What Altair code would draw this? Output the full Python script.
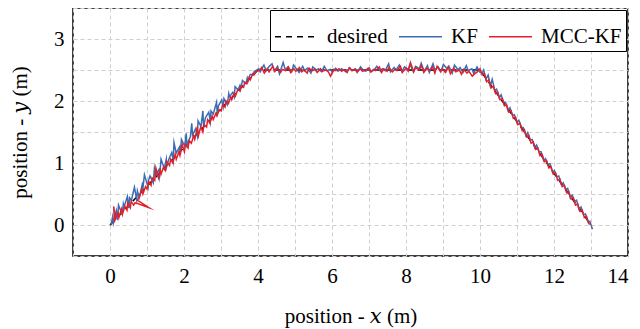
import altair as alt
import pandas as pd

# desired trajectory
des_x = [0.0, 4.0, 10.0, 13.0]
des_y = [0.0, 2.5, 2.5, 0.0]

# KF estimate
kf_x = [0.03, 0.07, 0.09, 0.17, 0.20, 0.23, 0.33, 0.36, 0.38, 0.47,
        0.51, 0.53, 0.58, 0.66, 0.72, 0.74, 0.79, 0.87, 0.89, 0.93,
        1.03, 1.04, 1.08, 1.17, 1.20, 1.23, 1.32, 1.34, 1.38, 1.47,
        1.52, 1.53, 1.59, 1.67, 1.71, 1.73, 1.79, 1.88, 1.90, 1.93,
        2.02, 2.06, 2.08, 2.17, 2.21, 2.23, 2.32, 2.36, 2.38, 2.46,
        2.51, 2.53, 2.58, 2.67, 2.71, 2.73, 2.79, 2.88, 2.90, 2.93,
        3.02, 3.06, 3.08, 3.17, 3.21, 3.23, 3.32, 3.36, 3.38, 3.46,
        3.51, 3.53, 3.58, 3.67, 3.71, 3.73, 3.79, 3.87, 3.90, 3.94,
        4.02, 4.06, 4.16, 4.22, 4.29, 4.38, 4.44, 4.53, 4.58, 4.68,
        4.74, 4.81, 4.91, 4.96, 5.05, 5.11, 5.21, 5.26, 5.34, 5.43,
        5.48, 5.58, 5.63, 5.72, 5.79, 5.86, 5.96, 6.01, 6.10, 6.16,
        6.26, 6.31, 6.39, 6.48, 6.53, 6.63, 6.68, 6.77, 6.84, 6.91,
        7.01, 7.06, 7.15, 7.21, 7.31, 7.36, 7.44, 7.53, 7.58, 7.68,
        7.73, 7.82, 7.89, 7.96, 8.06, 8.11, 8.20, 8.26, 8.36, 8.41,
        8.49, 8.58, 8.63, 8.73, 8.78, 8.87, 8.94, 9.01, 9.11, 9.16,
        9.25, 9.31, 9.41, 9.46, 9.54, 9.63, 9.68, 9.78, 9.83, 9.92,
        9.99, 10.06,
        10.10, 10.16, 10.22, 10.28, 10.33, 10.40, 10.45, 10.52, 10.57, 10.64,
        10.69, 10.76, 10.81, 10.88, 10.93, 11.00, 11.05, 11.12, 11.17, 11.24,
        11.29, 11.36, 11.41, 11.48, 11.53, 11.60, 11.65, 11.72, 11.77, 11.84,
        11.89, 11.96, 12.01, 12.08, 12.13, 12.20, 12.25, 12.32, 12.37, 12.44,
        12.49, 12.56, 12.61, 12.68, 12.73, 12.80, 12.85, 12.92, 12.97, 13.04]
kf_y = [0.00, 0.13, 0.03, 0.23, 0.08, 0.32, 0.17, 0.34, 0.29, 0.46,
        0.27, 0.44, 0.40, 0.61, 0.41, 0.55, 0.44, 0.65, 0.59, 0.81,
        0.61, 0.72, 0.79, 0.68, 0.91, 0.80, 0.89, 0.79, 1.06, 0.91,
        1.06, 0.94, 1.06, 1.17, 1.04, 1.33, 1.16, 1.26, 1.13, 1.38,
        1.27, 1.48, 1.29, 1.42, 1.64, 1.45, 1.56, 1.44, 1.68, 1.59,
        1.84, 1.59, 1.73, 1.82, 1.67, 1.84, 1.79, 1.98, 1.77, 1.92,
        2.02, 1.91, 2.04, 1.94, 2.12, 2.07, 2.14, 2.07, 2.23, 2.18,
        2.25, 2.19, 2.33, 2.28, 2.37, 2.32, 2.43, 2.42, 2.48, 2.49,
        2.52, 2.47, 2.58, 2.49, 2.55, 2.60, 2.48, 2.56, 2.44, 2.62,
        2.50, 2.55, 2.47, 2.58, 2.51, 2.46, 2.56, 2.49, 2.53, 2.45,
        2.55, 2.50, 2.52, 2.47, 2.56, 2.49, 2.51, 2.46, 2.53, 2.48,
        2.52, 2.50, 2.47, 2.54, 2.49, 2.52, 2.46, 2.55, 2.50, 2.48,
        2.53, 2.47, 2.51, 2.56, 2.48, 2.52, 2.49, 2.60, 2.47, 2.54,
        2.50, 2.58, 2.48, 2.55, 2.51, 2.59, 2.47, 2.56, 2.52, 2.61,
        2.48, 2.57, 2.46, 2.60, 2.50, 2.55, 2.47, 2.59, 2.52, 2.56,
        2.45, 2.58, 2.50, 2.54, 2.46, 2.57, 2.49, 2.52, 2.44, 2.55,
        2.47, 2.45,
        2.50, 2.35, 2.42, 2.24, 2.35, 2.17, 2.19, 2.05, 2.10, 1.98,
        1.98, 1.84, 1.89, 1.77, 1.78, 1.65, 1.69, 1.58, 1.57, 1.44,
        1.49, 1.37, 1.38, 1.25, 1.29, 1.18, 1.18, 1.04, 1.07, 0.97,
        0.99, 0.85, 0.88, 0.78, 0.79, 0.65, 0.68, 0.57, 0.59, 0.44,
        0.48, 0.38, 0.40, 0.25, 0.29, 0.17, 0.18, 0.05, 0.06, -0.07]

# MCC-KF estimate
mcc_x = [0.12, 0.10, 0.15, 0.22, 0.24, 0.31, 0.34, 0.40, 0.46, 0.48,
         0.55, 0.57, 0.64, 0.68, 1.05, 0.74, 0.80, 0.86, 0.89, 0.96,
         1.00, 1.05, 1.11, 1.14, 1.21, 1.24, 1.31, 1.36, 1.38, 1.45,
         1.50, 1.54, 1.61, 1.64, 1.70, 1.76, 1.79, 1.86, 1.89, 1.95,
         2.01, 2.04, 2.11, 2.14, 2.20, 2.26, 2.29, 2.36, 2.39, 2.45,
         2.51, 2.54, 2.61, 2.64, 2.70, 2.76, 2.79, 2.86, 2.89, 2.95,
         3.01, 3.04, 3.11, 3.14, 3.20, 3.26, 3.29, 3.36, 3.39, 3.45,
         3.51, 3.54, 3.61, 3.64, 3.70, 3.76, 3.79, 3.86, 3.89, 3.96,
         4.04, 4.10, 4.17, 4.25, 4.30, 4.40, 4.46, 4.52, 4.61, 4.66,
         4.75, 4.82, 4.88, 4.97, 5.02, 5.12, 5.18, 5.24, 5.33, 5.38,
         5.47, 5.54, 5.60, 5.69, 5.74, 5.84, 5.90, 5.96, 6.05, 6.10,
         6.19, 6.26, 6.32, 6.41, 6.46, 6.56, 6.62, 6.68, 6.77, 6.82,
         6.91, 6.98, 7.04, 7.13, 7.18, 7.28, 7.34, 7.40, 7.49, 7.54,
         7.63, 7.70, 7.76, 7.85, 7.90, 8.00, 8.06, 8.12, 8.21, 8.26,
         8.35, 8.42, 8.48, 8.57, 8.62, 8.72, 8.78, 8.84, 8.93, 8.98,
         9.07, 9.14, 9.20, 9.29, 9.34, 9.44, 9.50, 9.56, 9.65, 9.70,
         9.79, 9.86,
         9.93, 10.00, 10.06, 10.12, 10.18, 10.24, 10.30, 10.36, 10.42, 10.48,
         10.54, 10.60, 10.66, 10.72, 10.78, 10.84, 10.90, 10.96, 11.02, 11.08,
         11.14, 11.20, 11.26, 11.32, 11.38, 11.44, 11.50, 11.56, 11.62, 11.68,
         11.74, 11.80, 11.86, 11.92, 11.98, 12.04, 12.10, 12.16, 12.22, 12.28,
         12.34, 12.40, 12.46, 12.52, 12.58, 12.64, 12.70, 12.76, 12.82, 12.88,
         12.94, 13.00]
mcc_y = [0.04, 0.30, 0.10, 0.20, 0.12, 0.26, 0.18, 0.30, 0.24, 0.36,
         0.28, 0.38, 0.32, 0.36, 0.28, 0.40, 0.46, 0.58, 0.50, 0.62,
         0.58, 0.70, 0.64, 0.76, 0.72, 0.92, 0.76, 0.88, 0.82, 0.94,
         0.88, 1.02, 0.96, 1.06, 1.00, 1.14, 1.06, 1.18, 1.12, 1.30,
         1.18, 1.30, 1.24, 1.36, 1.32, 1.44, 1.38, 1.56, 1.44, 1.58,
         1.50, 1.62, 1.58, 1.70, 1.64, 1.76, 1.70, 1.80, 1.76, 1.86,
         1.84, 1.94, 1.90, 2.00, 1.96, 2.06, 2.02, 2.12, 2.08, 2.18,
         2.16, 2.24, 2.22, 2.30, 2.28, 2.38, 2.34, 2.44, 2.42, 2.48,
         2.49, 2.54, 2.45, 2.52, 2.47, 2.56, 2.48, 2.53, 2.46, 2.51,
         2.49, 2.55, 2.46, 2.52, 2.48, 2.54, 2.47, 2.50, 2.45, 2.53,
         2.49, 2.51, 2.46, 2.52, 2.48, 2.50, 2.47, 2.40, 2.51, 2.49,
         2.52, 2.48, 2.50, 2.46, 2.53, 2.49, 2.51, 2.47, 2.52, 2.48,
         2.50, 2.53, 2.47, 2.51, 2.49, 2.55, 2.46, 2.52, 2.48, 2.54,
         2.47, 2.51, 2.49, 2.56, 2.46, 2.53, 2.48, 2.62, 2.47, 2.54,
         2.50, 2.57, 2.46, 2.53, 2.49, 2.55, 2.45, 2.56, 2.48, 2.52,
         2.46, 2.55, 2.44, 2.53, 2.47, 2.50, 2.43, 2.51, 2.45, 2.48,
         2.40, 2.44,
         2.47, 2.52, 2.42, 2.44, 2.31, 2.34, 2.21, 2.24, 2.12, 2.14,
         2.02, 2.04, 1.92, 1.94, 1.82, 1.84, 1.72, 1.74, 1.62, 1.64,
         1.52, 1.54, 1.42, 1.44, 1.32, 1.34, 1.22, 1.24, 1.12, 1.14,
         1.02, 1.04, 0.92, 0.94, 0.82, 0.84, 0.72, 0.74, 0.62, 0.64,
         0.52, 0.54, 0.42, 0.44, 0.32, 0.34, 0.22, 0.24, 0.12, 0.14,
         0.02, 0.01]

series_names = ["desired", "KF", "MCC-KF"]
series_colors = ["#000000", "#3a6db5", "#e3202a"]
series_dash = [[6, 5], [1, 0], [1, 0]]

x_grid = [-1, 0, 1, 2, 3, 4, 5, 6, 7, 8, 9, 10, 11, 12, 13, 14]
y_grid = [-0.5, 0, 0.5, 1, 1.5, 2, 2.5, 3, 3.5]


def frame(xs, ys, name):
    n = min(len(xs), len(ys))
    return pd.DataFrame({"x": xs[:n], "y": ys[:n], "i": list(range(n)), "series": name})


df = pd.concat([frame(des_x, des_y, "desired"), frame(kf_x, kf_y, "KF"), frame(mcc_x, mcc_y, "MCC-KF")])

FONT = "Liberation Serif, DejaVu Serif, serif"
FS = 21

legend = alt.Legend(
    title=None, orient="top-right", direction="horizontal", symbolType="stroke",
    symbolSize=1850, symbolStrokeWidth=1.6, labelFont=FONT, labelFontSize=FS,
    labelColor="black", strokeColor="black", fillColor="white", padding=4,
    columnPadding=7, labelOffset=8, offset=2, symbolOffset=0,
)

xaxis = alt.Axis(values=x_grid, labelExpr="datum.value % 2 == 0 && datum.value >= 0 ? datum.label : ''",
                 grid=True, gridDash=[4, 3], gridColor="#cfcfcf", gridWidth=1, domain=False, ticks=False,
                 labelFont=FONT, labelFontSize=FS, labelColor="black", labelPadding=9,
                 title="position - 𝑥 (m)", titleFont=FONT, titleFontSize=FS, titleFontWeight="normal",
                 titleColor="black", titlePadding=19)
yaxis = alt.Axis(values=y_grid, labelOverlap=False,
                 labelExpr="datum.value % 1 == 0 && datum.value >= 0 ? format(datum.value, 'd') : ''",
                 grid=True, gridDash=[4, 3], gridColor="#cfcfcf", gridWidth=1, domain=False, ticks=False,
                 labelFont=FONT, labelFontSize=FS, labelColor="black", labelPadding=9,
                 title="position - 𝑦 (m)", titleFont=FONT, titleFontSize=FS, titleFontWeight="normal",
                 titleColor="black", titlePadding=23)

chart = alt.Chart(df).mark_line(strokeWidth=1.5, clip=True, strokeJoin="miter", strokeMiterLimit=10).encode(
    x=alt.X("x:Q", scale=alt.Scale(domain=[-1, 14], nice=False, zero=False), axis=xaxis),
    y=alt.Y("y:Q", scale=alt.Scale(domain=[-0.5, 3.5], nice=False, zero=False), axis=yaxis),
    color=alt.Color("series:N", scale=alt.Scale(domain=series_names, range=series_colors), legend=legend),
    strokeDash=alt.StrokeDash("series:N", scale=alt.Scale(domain=series_names, range=series_dash), legend=legend),
    order=alt.Order("i:Q"),
).properties(
    width=555, height=248,
    autosize=alt.AutoSizeParams(type="none"),
    padding={"left": 65, "top": 0, "right": 4, "bottom": 72},
).configure_view(stroke="black", strokeWidth=1.5)

chart.save("out.html", embed_options={"renderer": "svg", "actions": False})
